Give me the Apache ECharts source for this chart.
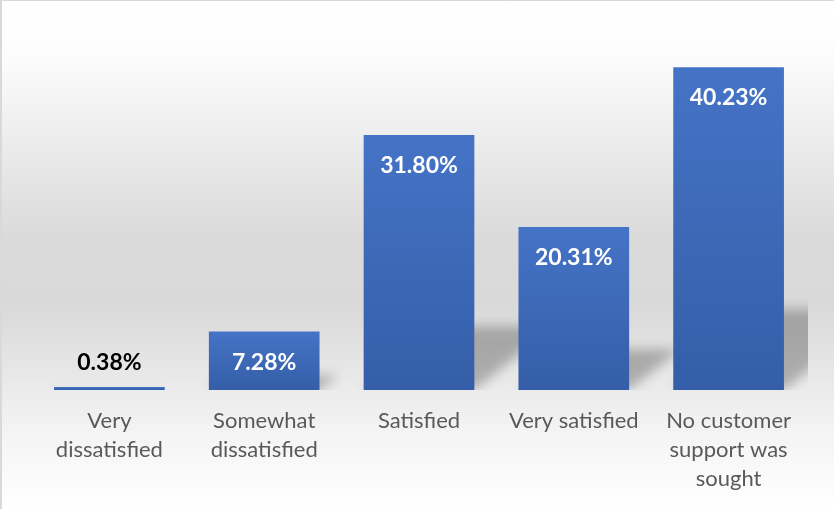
<!DOCTYPE html>
<html>
<head>
<meta charset="utf-8">
<script src="https://cdn.jsdelivr.net/npm/echarts@6/dist/echarts.min.js"></script>
<style>
  html, body { margin: 0; padding: 0; background: #ffffff; }
  #chart {
    width: 834px; height: 509px; box-sizing: border-box;
    border-left: 2px solid #d9d9d9; border-top: 1px solid #d9d9d9;
    background: linear-gradient(to bottom, #ffffff 0%, #fdfdfd 10%, #ececec 28%, #dadada 47%, #d9d9d9 60%, #e6e6e6 72%, #f4f4f4 85%, #ffffff 100%);
  }
</style>
</head>
<body>
<div id="chart"></div>
<script>
// Survey: satisfaction with customer support (share of respondents, %)
const categories = [
  'Very\ndissatisfied',
  'Somewhat\ndissatisfied',
  'Satisfied',
  'Very satisfied',
  'No customer\nsupport was\nsought'
];
const shares = [0.38, 7.28, 31.80, 20.31, 40.23];

const FONT = 'Lato, "Open Sans", sans-serif';

const chart = echarts.init(document.getElementById('chart'), null, { renderer: 'canvas' });

// Small values get their label above the bar in dark text
const barData = shares.map(v => ({
  value: v,
  label: v < 3
    ? { position: 'top', distance: 13, color: '#000000' }
    : { position: 'insideTop', distance: 19, color: '#ffffff' }
}));

// Soft perspective "floor" shadow cast towards the upper right of each bar.
// The shape is drawn far off to the left so that only its blurred shadow shows.
const OFF = 3000;
function renderShadow(params, api) {
  const idx = api.value(0);
  const val = api.value(1);
  const base = api.coord([idx, 0]);
  const top = api.coord([idx, val]);
  const band = api.size([1, 0])[0];
  const w = band * 0.715;
  const h = base[1] - top[1];
  const sh = h * 0.25;
  const dx = sh * 1.25;
  const x1 = base[0] - w / 2 - OFF, x2 = base[0] + w / 2 - OFF;
  const cs = params.coordSys;
  return {
    type: 'polygon',
    shape: { points: [[x1, base[1]], [x2, base[1]], [x2 + dx, base[1] - sh], [x1 + dx, base[1] - sh]] },
    clipPath: { type: 'rect', shape: { x: cs.x, y: cs.y, width: cs.width + 2, height: cs.height } },
    style: {
      fill: '#000000',
      shadowBlur: 12,
      shadowOffsetX: OFF,
      shadowColor: 'rgba(0,0,0,0.26)'
    }
  };
}

chart.setOption({
  animation: false,
  grid: { left: 30, right: 28, top: 28, bottom: 119, containLabel: false },
  xAxis: {
    type: 'category',
    data: categories,
    axisLine: { show: false },
    axisTick: { show: false },
    axisLabel: {
      interval: 0,
      margin: 16,
      color: '#595959',
      fontFamily: FONT,
      fontSize: 22,
      lineHeight: 29
    }
  },
  yAxis: {
    type: 'value',
    min: 0,
    max: 45,
    show: false,
    splitLine: { show: false }
  },
  series: [
    {
      type: 'custom',
      z: 1,
      silent: true,
      data: shares.map((v, i) => [i, v]),
      renderItem: renderShadow
    },
    {
      type: 'bar',
      z: 2,
      barWidth: '71.5%',
      data: barData,
      itemStyle: {
        color: new echarts.graphic.LinearGradient(0, 0, 0, 1, [
          { offset: 0, color: '#4573c6' },
          { offset: 1, color: '#345ea7' }
        ])
      },
      label: {
        show: true,
        fontFamily: FONT,
        fontWeight: 'bold',
        fontSize: 23,
        formatter: p => p.value.toFixed(2) + '%'
      }
    }
  ]
});
</script>
</body>
</html>
